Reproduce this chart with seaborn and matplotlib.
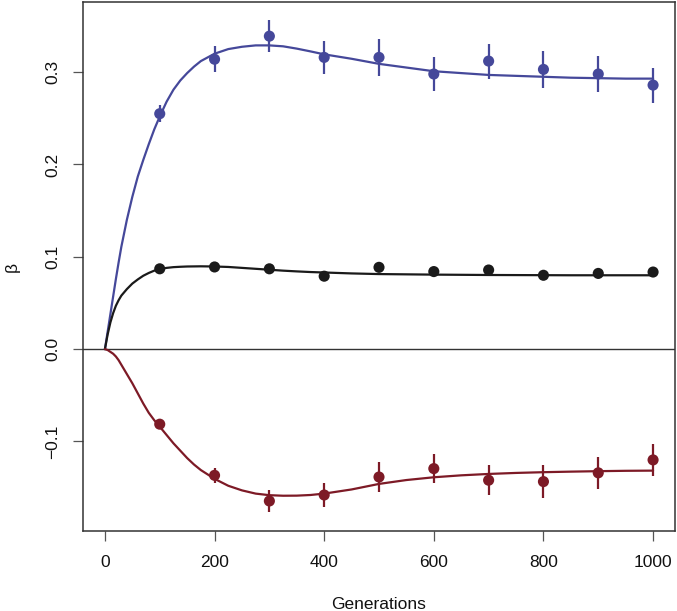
import numpy as np
import pandas as pd
import matplotlib
matplotlib.use('Agg')
import matplotlib.pyplot as plt
import seaborn as sns

# observed means and errors at each sampled generation
generations = [100, 200, 300, 400, 500, 600, 700, 800, 900, 1000]
blue_mean = [0.255, 0.314, 0.339, 0.316, 0.316, 0.298, 0.312, 0.303, 0.298, 0.286]
blue_err = [0.009, 0.014, 0.017, 0.018, 0.020, 0.018, 0.019, 0.020, 0.019, 0.019]
black_mean = [0.087, 0.089, 0.087, 0.079, 0.0886, 0.084, 0.0857, 0.080, 0.082, 0.0835]
black_err = [0.003, 0.003, 0.003, 0.003, 0.003, 0.003, 0.003, 0.003, 0.003, 0.003]
red_mean = [-0.0813, -0.1367, -0.1645, -0.158, -0.1385, -0.1294, -0.142, -0.1435, -0.134, -0.120]
red_err = [0.004, 0.008, 0.012, 0.0135, 0.016, 0.016, 0.016, 0.0175, 0.017, 0.017]

# fitted curves
curve_x = [0, 5, 10, 15, 20, 25, 30, 40, 50, 60, 70, 80, 90, 100, 112.5, 125, 137.5, 150,
           162.5, 175, 200, 225, 250, 275, 300, 325, 350, 375, 400, 450, 500, 550, 600,
           650, 700, 750, 800, 850, 900, 950, 1000]
blue_fit = [0.0, 0.019, 0.038, 0.057, 0.076, 0.094, 0.111, 0.140, 0.165, 0.187, 0.205,
            0.222, 0.238, 0.252, 0.268, 0.281, 0.291, 0.299, 0.306, 0.312, 0.320, 0.325,
            0.3275, 0.329, 0.329, 0.328, 0.3255, 0.3225, 0.3193, 0.3145, 0.309, 0.305,
            0.301, 0.299, 0.297, 0.296, 0.295, 0.294, 0.2935, 0.293, 0.293]
black_fit = [0.0, 0.016, 0.029, 0.039, 0.047, 0.053, 0.058, 0.065, 0.071, 0.0755, 0.0795,
             0.0825, 0.085, 0.0868, 0.0880, 0.0888, 0.0892, 0.0895, 0.0896, 0.0897, 0.0895,
             0.089, 0.088, 0.087, 0.086, 0.085, 0.0842, 0.0835, 0.083, 0.082, 0.0813,
             0.081, 0.0807, 0.0805, 0.0803, 0.0802, 0.0801, 0.080, 0.080, 0.080, 0.080]
red_fit = [0.0, -0.001, -0.003, -0.005, -0.008, -0.012, -0.017, -0.027, -0.037, -0.048,
           -0.059, -0.069, -0.077, -0.084, -0.093, -0.102, -0.110, -0.118, -0.125, -0.131,
           -0.1405, -0.148, -0.153, -0.1565, -0.1582, -0.1588, -0.1587, -0.158, -0.1565,
           -0.152, -0.146, -0.1418, -0.1388, -0.1367, -0.1352, -0.1341, -0.1333, -0.1327,
           -0.1322, -0.1318, -0.1316]

series = ['blue', 'black', 'red']
colors = {'blue': '#45489a', 'black': '#1a1a1a', 'red': '#7d1a26'}

fits = pd.DataFrame({
    'gen': curve_x * 3,
    'beta': blue_fit + black_fit + red_fit,
    'series': [s for s in series for _ in curve_x],
})
points = pd.DataFrame({
    'gen': generations * 3,
    'beta': blue_mean + black_mean + red_mean,
    'err': blue_err + black_err + red_err,
    'series': [s for s in series for _ in generations],
})

sns.set_style('white')
plt.rcParams['font.family'] = ['Liberation Sans', 'DejaVu Sans']

fig = plt.figure(figsize=(6.77, 6.11), dpi=100)
ax = fig.add_axes([83 / 677, 80 / 611, 592 / 677, 529 / 611])

ax.axhline(0, color='#333333', lw=1.0, zorder=1)
sns.lineplot(data=fits, x='gen', y='beta', hue='series', palette=colors,
             lw=1.6, legend=False, ax=ax, zorder=2)
for s in series:
    d = points[points['series'] == s]
    ax.errorbar(d['gen'], d['beta'], yerr=d['err'], fmt='none',
                ecolor=colors[s], elinewidth=1.6, capsize=0, zorder=3)
sns.scatterplot(data=points, x='gen', y='beta', hue='series', palette=colors,
                s=64, linewidth=0, legend=False, ax=ax, zorder=4)

ax.set_xlim(-40, 1040)
ax.set_ylim(-0.197, 0.376)
ax.set_xticks([0, 200, 400, 600, 800, 1000])
ax.set_yticks([-0.1, 0.0, 0.1, 0.2, 0.3])
ax.set_yticklabels(['\u22120.1', '0.0', '0.1', '0.2', '0.3'], rotation=90, va='center')
ax.tick_params(axis='both', direction='out', length=7.5, width=0.9, color='#555555',
               labelsize=12.5, labelcolor='#111111')
ax.tick_params(axis='x', pad=10, bottom=True)
ax.tick_params(axis='y', pad=9, left=True)

for sp in ax.spines.values():
    sp.set_color('#333333')
    sp.set_linewidth(1.1)

ax.set_xlabel('Generations', fontsize=12.5, color='#111111')
ax.set_ylabel('\u03b2', fontsize=12.5, color='#111111')
ax.xaxis.set_label_coords(0.5, -0.124)
ax.yaxis.set_label_coords(-0.107, 0.5)

fig.savefig('out.png', dpi=100)
